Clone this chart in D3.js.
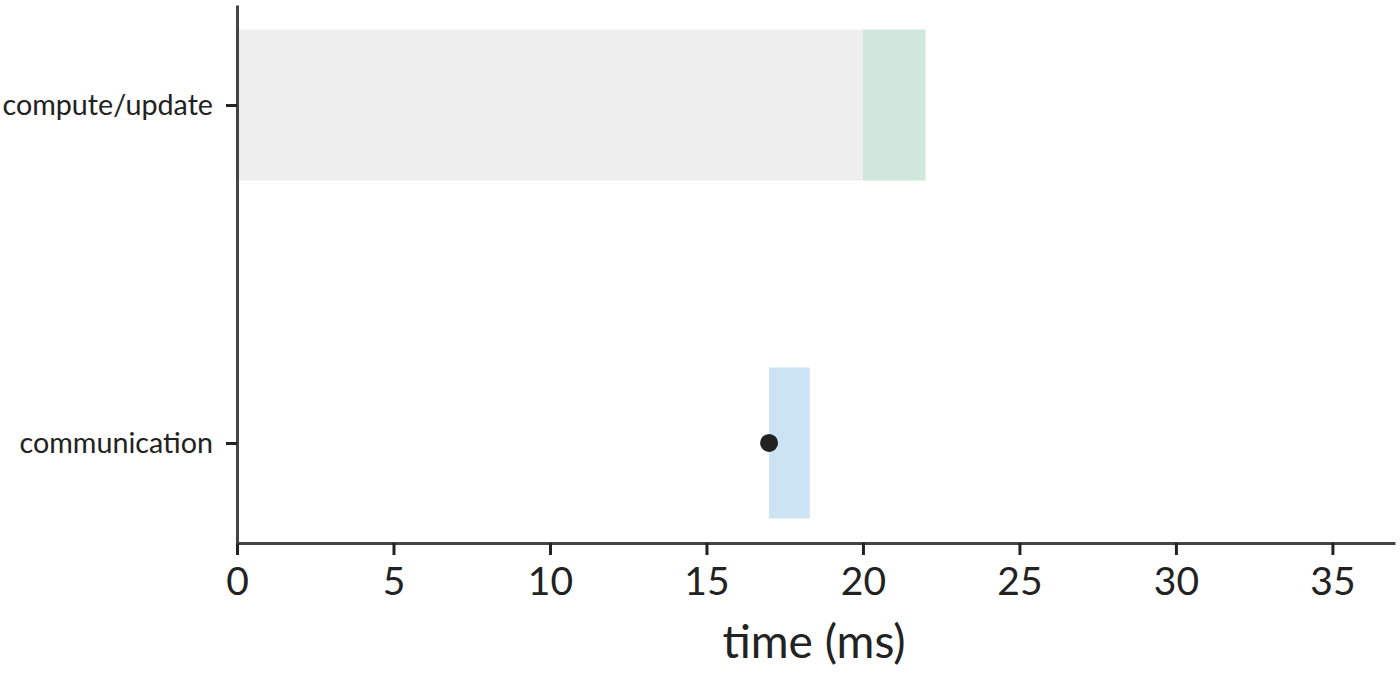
<!DOCTYPE html>
<html>
<head>
<meta charset="utf-8">
<script src="https://cdn.jsdelivr.net/npm/d3@7"></script>
<style>
  body { margin: 0; background: #fff; }
  svg { display: block; }
  svg text { font-family: "Lato", "Open Sans", sans-serif; }
</style>
</head>
<body>
<svg></svg>
<script>
// lanes on the y axis
const lanes = ["compute/update", "communication"];

// spans: lane, start, end (ms)
const spanLane  = ["compute/update", "compute/update", "communication"];
const spanStart = [0, 20, 17];
const spanEnd   = [20, 22, 18.3];
const spanColor = ["#eeeeee", "#d0e8dc", "#cce3f3"];

// events (dots)
const dotLane = ["communication"];
const dotTime = [17];

const xTicks = [0, 5, 10, 15, 20, 25, 30, 35];
const xMax = 37;

const width = 1400;
const height = 673;
const margin = { top: 5, right: 5, bottom: 130, left: 237 };

const svg = d3.select("svg")
    .attr("width", width)
    .attr("height", height);

const x = d3.scaleLinear()
    .domain([0, xMax])
    .range([margin.left, width - margin.right]);

const y = d3.scalePoint()
    .domain(lanes)
    .range([margin.top, height - margin.bottom])
    .padding(0.296);

const barH = 151;

const spans = spanLane.map((l, i) => ({ lane: l, start: spanStart[i], end: spanEnd[i], color: spanColor[i] }));

svg.append("g")
  .selectAll("rect")
  .data(spans)
  .enter()
  .append("rect")
    .attr("x", d => x(d.start))
    .attr("width", d => x(d.end) - x(d.start))
    .attr("y", d => y(d.lane) - barH / 2)
    .attr("height", barH)
    .attr("fill", d => d.color);

svg.append("g")
  .selectAll("circle")
  .data(dotLane.map((l, i) => ({ lane: l, t: dotTime[i] })))
  .enter()
  .append("circle")
    .attr("cx", d => x(d.t))
    .attr("cy", d => y(d.lane))
    .attr("r", 9)
    .attr("fill", "#222");

// x axis
const xAxis = svg.append("g")
    .attr("transform", `translate(0,${height - margin.bottom})`)
    .call(d3.axisBottom(x).tickValues(xTicks).tickSize(12).tickPadding(12).tickSizeOuter(0));

xAxis.attr("font-family", "Lato, sans-serif").attr("font-size", null);
xAxis.select(".domain").attr("stroke", "#444").attr("stroke-width", 3);
xAxis.selectAll(".tick line").attr("stroke", "#222").attr("stroke-width", 3);
xAxis.selectAll(".tick text")
    .attr("fill", "#222")
    .style("font-size", "39px");

svg.append("text")
    .attr("x", (x(0) + x(xMax)) / 2 - 2)
    .attr("y", 658)
    .attr("text-anchor", "middle")
    .attr("fill", "#222")
    .style("font-size", "46px")
    .text("time (ms)");

// y axis
const yAxis = svg.append("g")
    .attr("transform", `translate(${margin.left},0)`)
    .call(d3.axisLeft(y).tickSize(11).tickPadding(13).tickSizeOuter(0));

yAxis.attr("font-family", "Lato, sans-serif").attr("font-size", null);
yAxis.select(".domain").attr("stroke", "#444").attr("stroke-width", 3);
yAxis.selectAll(".tick line").attr("stroke", "#222").attr("stroke-width", 3);
yAxis.selectAll(".tick text")
    .attr("fill", "#222")
    .style("font-size", "28.7px");
</script>
</body>
</html>
